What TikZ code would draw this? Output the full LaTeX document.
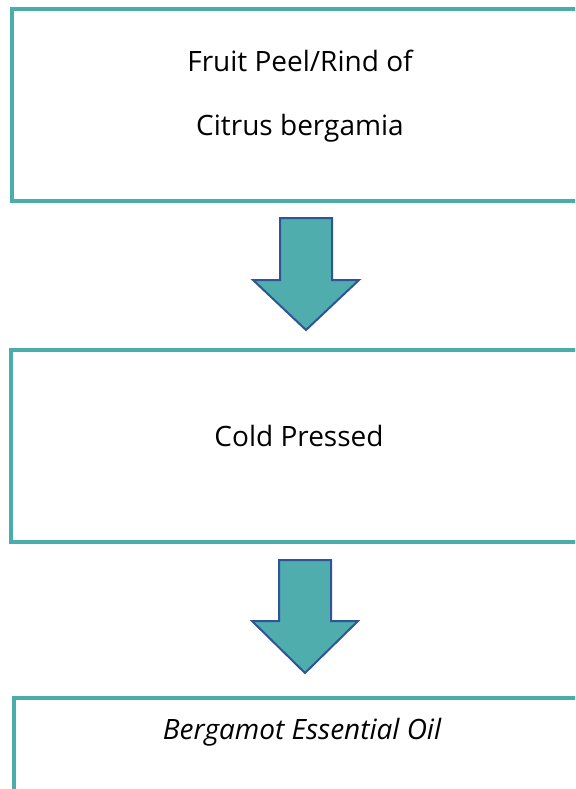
\documentclass[tikz,border=0pt]{standalone}
\usepackage{fontspec}
\setmainfont{Open Sans}
\usetikzlibrary{positioning,calc}
\newlength{\du}
\setlength{\du}{0.75pt}
\definecolor{boxteal}{RGB}{75,172,172}
\definecolor{arrowteal}{RGB}{79,173,173}
\definecolor{arrowline}{RGB}{47,85,151}
\tikzset{
  stepbox/.style={draw=boxteal, line width=4\du, minimum width=576\du, minimum height=192\du, inner sep=0pt},
  steptext/.style={font=\fontsize{21}{25}\selectfont, inner sep=0pt, anchor=base},
  blockarrow/.style={fill=arrowteal, draw=arrowline, line width=2\du, line join=miter},
}

\begin{document}
\begin{tikzpicture}
\pgftransformyscale{-1.000000}
\useasboundingbox (0\du,0\du) rectangle (575\du,789\du);
\clip (0\du,0\du) rectangle (575\du,789\du);
% boxes
\node[stepbox] (peel) at (300\du,105\du) {};
\node[stepbox] (press) at (299\du,445.5\du) {};
\node[stepbox] (oil) at (302\du,794\du) {};
% texts (placed on their base line)
\node[steptext] (peeltop) at ($(peel.north)+(0,64\du)$) {Fruit Peel/Rind of};
\node[steptext] (peelbot) at ($(peel.north)+(0,128\du)$) {Citrus bergamia};
\node[steptext] (presstxt) at ($(press.center)+(0,0.5\du)$) {Cold Pressed};
\node[steptext] (oiltxt) at ($(oil.north)+(0,43\du)$) {\itshape Bergamot Essential Oil};
% block arrows
\coordinate (a1) at ($(peel.south)+(6\du,15\du)$);
\draw[blockarrow] (a1) +(-26\du,0) -- +(26\du,0) -- +(26\du,62\du) -- +(53\du,62\du) -- +(0,112\du) -- +(-53\du,62\du) -- +(-26\du,62\du) -- cycle;
\coordinate (a2) at ($(press.south)+(6\du,16.5\du)$);
\draw[blockarrow] (a2) +(-26\du,0) -- +(26\du,0) -- +(26\du,61\du) -- +(53\du,61\du) -- +(0,113\du) -- +(-53\du,61\du) -- +(-26\du,61\du) -- cycle;
\end{tikzpicture}
\end{document}
